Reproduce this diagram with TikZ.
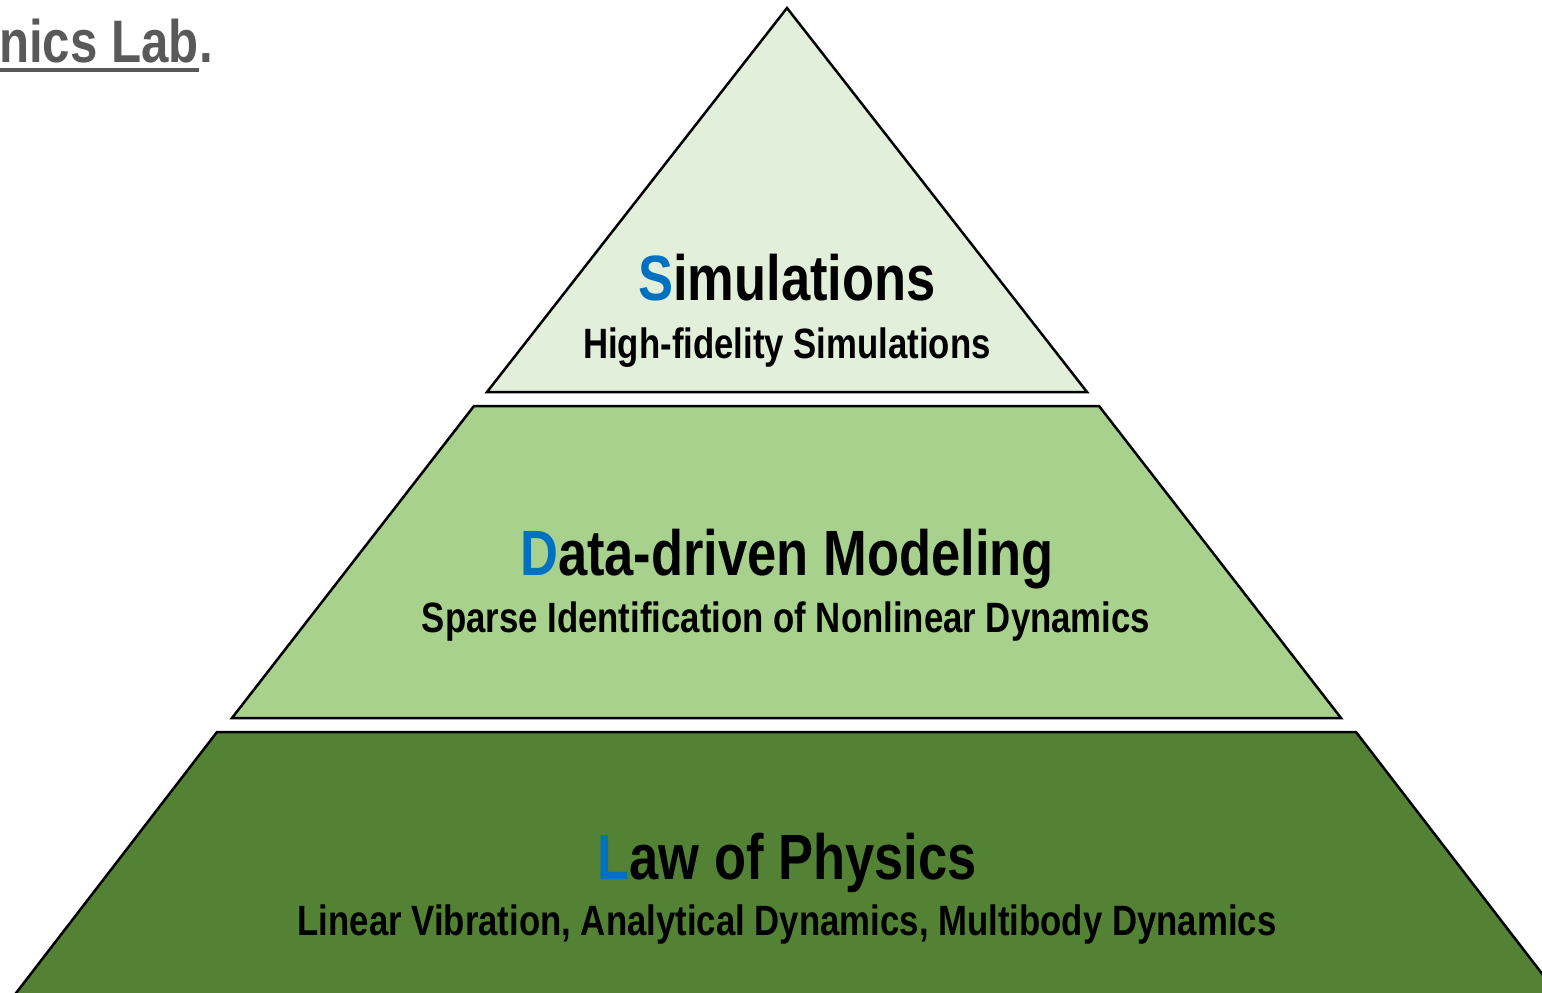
\documentclass[tikz,border=0pt]{standalone}
\usepackage{fontspec}
\setmainfont{Liberation Sans}[FakeStretch=0.82]
\definecolor{topgreen}{HTML}{E2EFDA}
\definecolor{midgreen}{HTML}{A9D18E}
\definecolor{lowgreen}{HTML}{548235}
\definecolor{capblue}{HTML}{0070C0}
\definecolor{labgray}{HTML}{595959}
\tikzset{
  layer/.style={draw=black, line width=2.5pt, line join=miter},
  title/.style={anchor=base, inner sep=0pt, font=\bfseries\fontsize{64}{70}\selectfont},
  subtitle/.style={anchor=base, inner sep=0pt, font=\bfseries\fontsize{42.4}{46}\selectfont}
}
\begin{document}
\begin{tikzpicture}[x=1pt,y=-1pt]
\useasboundingbox (0,0) rectangle (1542,993);
\clip (0,0) rectangle (1542,993);

\draw[layer, fill=topgreen] (787,8) -- (1087,392) -- (487,392) -- cycle;
\draw[layer, fill=midgreen] (474,406) -- (1099,406) -- (1341,718) -- (232,718) -- cycle;
\draw[layer, fill=lowgreen] (217,732) -- (1356,732) -- (1570,1010) -- (3,1010) -- cycle;

\node[title] (sim) at (787,300) {\textcolor{capblue}{S}imulations};
\node[subtitle] (simsub) at (787,358) {High-fidelity Simulations};
\node[title] (data) at (787,575) {\textcolor{capblue}{D}ata-driven Modeling};
\node[subtitle] (datasub) at (786,632) {Sparse Identification of Nonlinear Dynamics};
\node[title] (law) at (787,879) {\textcolor{capblue}{L}aw of Physics};
\node[subtitle] (lawsub) at (787,935) {Linear Vibration, Analytical Dynamics, Multibody Dynamics};

\node[anchor=base east, inner sep=0pt, text=labgray, font=\bfseries\fontsize{60}{66}\selectfont] (lab) at (199,62) {nics Lab};
\node[anchor=base west, inner sep=0pt, text=labgray, font=\bfseries\fontsize{60}{66}\selectfont] (dot) at (lab.base east) {.};
\draw[labgray, line width=4pt] ([yshift=-8pt]lab.base west) -- ([yshift=-8pt]lab.base east);
\end{tikzpicture}
\end{document}
